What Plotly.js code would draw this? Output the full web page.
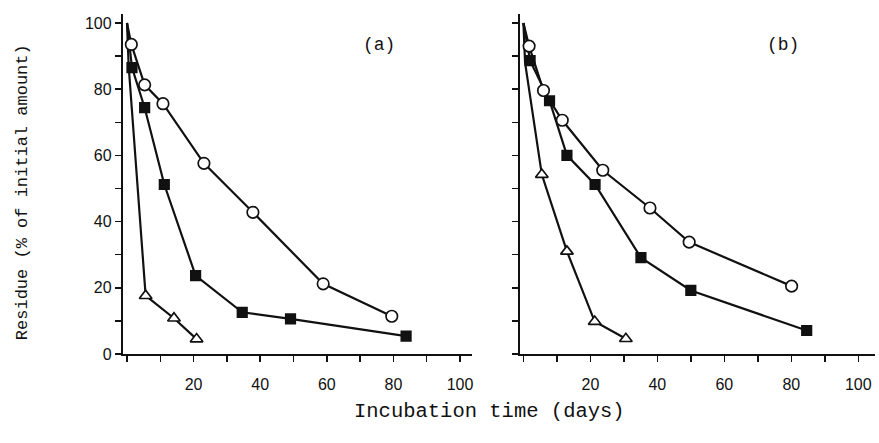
<!DOCTYPE html>
<html>
<head>
<meta charset="utf-8">
<script src="https://cdn.plot.ly/plotly-3.0.1.min.js"></script>
<style>html,body{margin:0;padding:0;background:#fff;}#chart{width:879px;height:443px;}</style>
</head>
<body>
<div id="chart"></div>
<script>
// Panel (a)
const circA_x = [0, 1.3, 5.3, 10.8, 23.1, 37.8, 58.9, 79.5];
const circA_y = [100, 93.5, 81.3, 75.6, 57.6, 42.8, 21.2, 11.4];
const sqA_x = [0, 1.5, 5.3, 11.2, 20.6, 34.6, 49.1, 83.8];
const sqA_y = [100, 86.5, 74.4, 51.2, 23.7, 12.6, 10.6, 5.4];
const triA_x = [0, 0.5, 5.6, 14.1, 20.9];
const triA_y = [100, 87, 17.6, 10.8, 4.5];
// Panel (b)
const circB_x = [0, 1.7, 6.0, 11.6, 23.7, 37.8, 49.5, 80.1];
const circB_y = [100, 93, 79.6, 70.6, 55.5, 44.1, 33.8, 20.5];
const sqB_x = [0, 2.0, 7.8, 13.0, 21.4, 35.1, 50.0, 84.6];
const sqB_y = [100, 88.6, 76.5, 60, 51.2, 29.1, 19.2, 7.1];
const triB_x = [0, 0.5, 5.5, 13.0, 21.3, 30.6];
const triB_y = [100, 88, 54.2, 31, 9.8, 4.6];

const xTickVals = [0,10,20,30,40,50,60,70,80,90,100];
const xTickText = ['','','20','','40','','60','','80','','100'];
const yTickVals = [0,10,20,30,40,50,60,70,80,90,100];
const yTickText = ['0','','20','','40','','60','','80','','100'];

const xTitle = 'Incubation time (days)';
const yTitle = 'Residue (% of initial amount)';
const panelLabels = ['(a)', '(b)'];

// marker visibility: the day-0 start point (and the first triangle point, lost in the
// dark wedge near the axis in the original) carry no drawn marker
function vis(n, hidden){ const a = new Array(n).fill(1); hidden.forEach(i => a[i] = 0); return a; }

function series(xs, ys, sym, fill, size, xa, ya, hidden){
  const v = vis(xs.length, hidden);
  return {
    x: xs, y: ys, xaxis: xa, yaxis: ya, type: 'scatter', mode: 'lines+markers',
    line: {color: '#111', width: 2.2},
    cliponaxis: false,
    marker: {symbol: sym, size: v.map(o => o ? size : 0), opacity: v,
             color: fill, line: {color: '#111', width: 1.7}},
    showlegend: false, hoverinfo: 'x+y'
  };
}

const data = [
  series(triA_x, triA_y, 'triangle-up', '#fff', 11, 'x', 'y', [0, 1]),
  series(sqA_x, sqA_y, 'square', '#111', 9.5, 'x', 'y', [0]),
  series(circA_x, circA_y, 'circle', '#fff', 11.5, 'x', 'y', [0]),
  series(triB_x, triB_y, 'triangle-up', '#fff', 11, 'x2', 'y2', [0, 1]),
  series(sqB_x, sqB_y, 'square', '#111', 9.5, 'x2', 'y2', [0]),
  series(circB_x, circB_y, 'circle', '#fff', 11.5, 'x2', 'y2', [0])
];

const tickFont = {family: 'Liberation Sans, Arial, sans-serif', size: 16, color: '#111'};
const monoFont = 'Liberation Mono, Courier New, monospace';

const xaxisBase = {
  tickmode: 'array', tickvals: xTickVals, ticktext: xTickText,
  ticks: 'outside', ticklen: 6, tickwidth: 1.5, tickcolor: '#111',
  showline: true, linecolor: '#111', linewidth: 2.2,
  showgrid: false, zeroline: false, tickfont: tickFont, ticklabelstandoff: 9
};
const yaxisBase = {
  range: [0, 102.7], tickmode: 'array', tickvals: yTickVals, ticktext: yTickText,
  ticks: 'outside', ticklen: 6, tickwidth: 1.5, tickcolor: '#111',
  showline: true, linecolor: '#111', linewidth: 2.2,
  showgrid: false, zeroline: false, tickfont: tickFont
};

const layout = {
  width: 879, height: 443,
  margin: {l: 123, r: 4, t: 14, b: 89},
  paper_bgcolor: '#fff', plot_bgcolor: '#fff',
  xaxis: Object.assign({}, xaxisBase, {domain: [0, 0.4637], range: [-1.2, 103.5], anchor: 'y'}),
  xaxis2: Object.assign({}, xaxisBase, {domain: [0.528, 1], range: [-1, 105], anchor: 'y2'}),
  yaxis: Object.assign({}, yaxisBase, {domain: [0, 1], anchor: 'x'}),
  yaxis2: Object.assign({}, yaxisBase, {domain: [0, 1], anchor: 'x2', showticklabels: false}),
  annotations: [
    {text: panelLabels[0], xref: 'x', yref: 'y', x: 75.7, y: 93.2, showarrow: false,
     font: {family: monoFont, size: 18, color: '#111'}},
    {text: panelLabels[1], xref: 'x2', yref: 'y2', x: 77.5, y: 93.2, showarrow: false,
     font: {family: monoFont, size: 18, color: '#111'}},
    {text: xTitle, xref: 'paper', yref: 'paper', x: 0.488, y: -0.17, showarrow: false,
     xanchor: 'center', yanchor: 'middle', font: {family: monoFont, size: 20.5, color: '#111'}},
    {text: yTitle, xref: 'paper', yref: 'paper', x: -0.1343, y: 0.476, showarrow: false,
     textangle: -90, xanchor: 'center', yanchor: 'middle',
     font: {family: monoFont, size: 17, color: '#111'}}
  ]
};

Plotly.newPlot('chart', data, layout, {displayModeBar: false, staticPlot: true});
</script>
</body>
</html>
